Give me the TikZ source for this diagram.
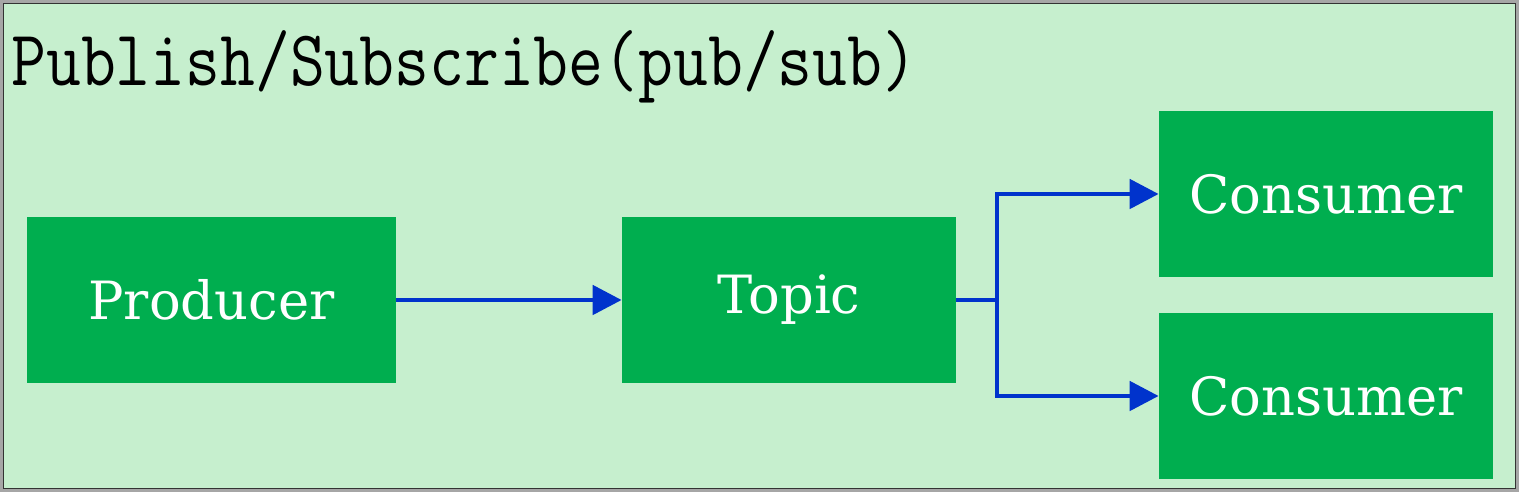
\documentclass[tikz,border=0pt]{standalone}
\usepackage{xcolor}
\usepackage{fontspec}
\usepackage{tikz}
\usetikzlibrary{arrows.meta,positioning}
\newfontfamily\boxfont{DejaVu Serif}
\definecolor{pagegreen}{HTML}{C6EFCE}
\definecolor{boxgreen}{HTML}{00AE4F}
\definecolor{linkblue}{HTML}{0033CC}
\tikzset{
  block/.style={fill=boxgreen,text=white,minimum height=3.32cm,inner sep=0pt,
    font=\boxfont\fontsize{30}{36}\selectfont},
  link/.style={linkblue,line width=2.8pt,-{Triangle[length=0.58cm,width=0.58cm]}}
}
\begin{document}
\begin{tikzpicture}[transform shape,scale=1]
 	\fill[gray!70] (0,0) rectangle (30.38,9.84);
 	\draw[fill=pagegreen,draw=black!80,line width=1pt] (0.07,0.07) rectangle (30.31,9.77);
 	\node[anchor=base west,inner sep=0pt,yscale=1.17,font=\ttfamily\fontsize{38.5}{44}\selectfont] (title) at (0.22,8.12) {Publish/Subscribe(pub/sub)};
 	\node[block,minimum width=7.38cm] (producer) at (4.23,3.84) {Producer};
 	\node[block,minimum width=6.68cm] (topic) at (15.78,3.84) {Topic};
 	\node[block,minimum width=6.68cm] (consumerA) at (26.52,5.96) {Consumer};
 	\node[block,minimum width=6.68cm] (consumerB) at (26.52,1.92) {Consumer};
 	\coordinate (fork) at (19.94,3.84);
 	\draw[link] (producer) -- (topic);
 	\draw[linkblue,line width=2.8pt] (topic.east) -- (fork);
 	\draw[link] (fork) |- (consumerA.west);
 	\draw[link] (fork) |- (consumerB.west);
\end{tikzpicture}
\end{document}
